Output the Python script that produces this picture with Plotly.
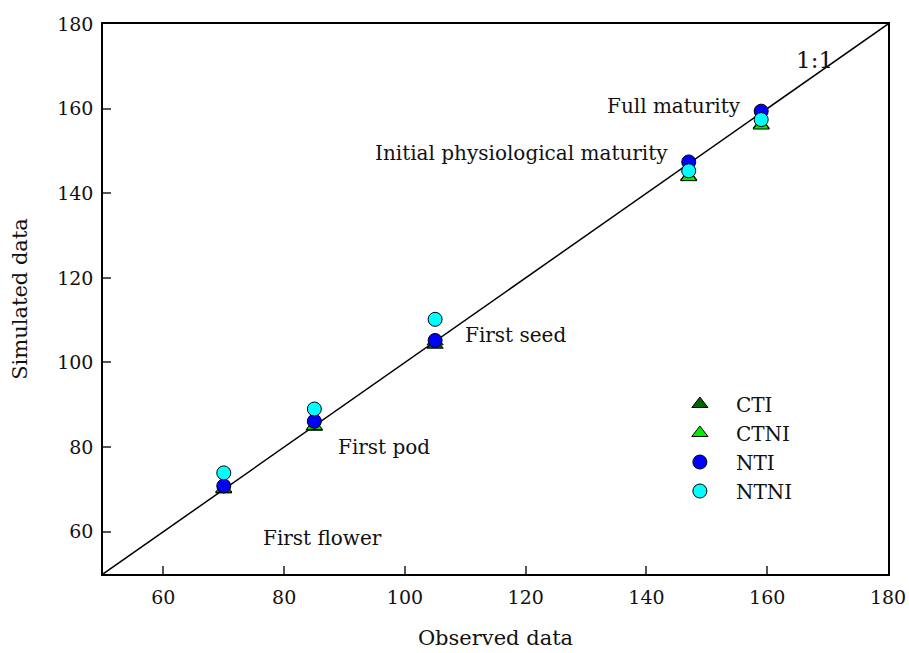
import plotly.graph_objects as go

# Observed vs simulated days to each phenological stage
observed = [70, 85, 105, 147, 159]
cti = [70.0, 84.8, 104.2, 144.0, 156.2]
ctni = [70.2, 85.0, 105.0, 143.8, 156.0]
nti = [70.8, 86.1, 105.2, 147.4, 159.4]
ntni = [73.9, 89.0, 110.2, 145.3, 157.4]

stages = ["First flower", "First pod", "First seed",
          "Initial physiological maturity", "Full maturity"]
stage_x = [86.3, 96.6, 118.3, 119.3, 144.6]
stage_y = [58.6, 80.0, 106.4, 149.4, 160.7]

axis_range = [50, 180]
tick_vals = [60, 80, 100, 120, 140, 160, 180]

FONT = "DejaVu Serif"
TXT = "#111"

fig = go.Figure()

# 1:1 reference line
fig.add_trace(go.Scatter(
    x=axis_range, y=axis_range, mode="lines",
    line=dict(color="black", width=1.5), showlegend=False, hoverinfo="skip"))

series = [
    ("CTI", cti, "triangle-up", "#006400"),
    ("CTNI", ctni, "triangle-up", "#00ee00"),
    ("NTI", nti, "circle", "#0000ff"),
    ("NTNI", ntni, "circle", "#00ffff"),
]
for name, vals, sym, col in series:
    fig.add_trace(go.Scatter(
        x=observed, y=vals, mode="markers", name=name,
        marker=dict(symbol=sym, size=14, color=col,
                    line=dict(color="black", width=1))))

for txt, xx, yy in zip(stages, stage_x, stage_y):
    fig.add_annotation(x=xx, y=yy, text=txt, showarrow=False,
                       font=dict(family=FONT, size=20, color=TXT))

fig.add_annotation(x=167.9, y=171.4, text="1:1", showarrow=False,
                   font=dict(family=FONT, size=23, color=TXT))

axis_common = dict(
    range=axis_range, tickvals=tick_vals, showgrid=False, zeroline=False,
    showline=True, linecolor="black", linewidth=1.5, mirror=True,
    ticks="inside", ticklen=8, tickcolor="#555", tickwidth=1.5,
    automargin=False,
    tickfont=dict(family=FONT, size=19, color=TXT))

fig.update_xaxes(**axis_common, ticklabelstandoff=5,
                 title=dict(text="Observed data", standoff=24,
                            font=dict(family=FONT, size=21, color=TXT)))
fig.update_yaxes(**axis_common, ticklabelstandoff=4,
                 title=dict(text="Simulated data", standoff=24,
                            font=dict(family=FONT, size=21, color=TXT)))

fig.update_layout(
    width=909, height=653,
    margin=dict(l=103, r=21, t=24, b=79),
    plot_bgcolor="white", paper_bgcolor="white",
    legend=dict(x=0.7145, y=0.3445, xanchor="left", yanchor="top",
                bgcolor="rgba(0,0,0,0)",
                font=dict(family=FONT, size=20, color=TXT),
                itemwidth=62, tracegroupgap=0),
)

fig.write_html("out.html")
